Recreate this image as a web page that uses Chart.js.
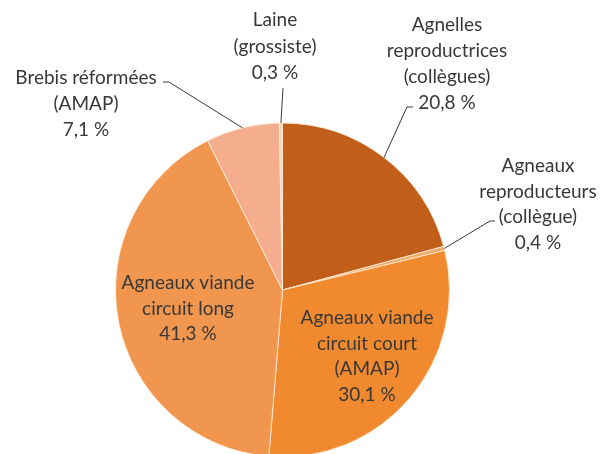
<!DOCTYPE html>
<html><head><meta charset="utf-8">
<script src="https://cdn.jsdelivr.net/npm/chart.js@4/dist/chart.umd.min.js"></script>
<style>html,body{margin:0;padding:0;background:#fff;overflow:hidden}#wrap{position:relative;width:600px;height:458px}</style>
</head><body><div id="wrap"><canvas id="c"></canvas></div>
<script>
// ---- data ----
const categories = ["Agnelles reproductrices (collègues)", "Agneaux reproducteurs (collègue)", "Agneaux viande circuit court (AMAP)", "Agneaux viande circuit long", "Brebis réformées (AMAP)", "Laine (grossiste)"];
const shares = [20.8, 0.4, 30.1, 41.3, 7.1, 0.3];
const labelLines = [["Agnelles", "reproductrices", "(collègues)"], ["Agneaux", "reproducteurs", "(collègue)"], ["Agneaux viande", "circuit court", "(AMAP)"], ["Agneaux viande", "circuit long"], ["Brebis réformées", "(AMAP)"], ["Laine", "(grossiste)"]];

// ---- style ----
const sliceColors = ["#C05E1A", "#F2A866", "#F18A2E", "#F1964E", "#F4AE8E", "#F8D3B6"];
const textColor = "#383838";
const font = "19px Lato";
// label placement (center x, first line y, line height, leader points after arc edge)
const labelLayout = [
  {x: 447, y: 25, lh: 26, leader: [[407, 107], [413, 107]]},
  {x: 538, y: 166, lh: 25.5, leader: [[490, 221], [495, 221]]},
  {x: 367, y: 318, lh: 25.5, leader: null},
  {x: 188, y: 283, lh: 25.5, leader: null},
  {x: 86, y: 78, lh: 26, leader: [[169, 82], [163, 82]]},
  {x: 275, y: 20, lh: 26.5, leader: [[283, 88]]}
];

const fmt = v => v.toFixed(1).replace('.', ',') + ' %';

const labelPlugin = {
  id: 'labels',
  afterDraw(chart) {
    const ctx = chart.ctx;
    const meta = chart.getDatasetMeta(0);
    ctx.save();
    ctx.strokeStyle = textColor;
    ctx.lineWidth = 1;
    meta.data.forEach((arc, i) => {
      const L = labelLayout[i];
      if (!L.leader) return;
      const p = arc.getProps(['x', 'y', 'startAngle', 'endAngle', 'outerRadius'], true);
      const mid = (p.startAngle + p.endAngle) / 2;
      const ex = p.x + Math.cos(mid) * p.outerRadius;
      const ey = p.y + Math.sin(mid) * p.outerRadius;
      ctx.beginPath();
      ctx.moveTo(ex, ey);
      L.leader.forEach(pt => ctx.lineTo(pt[0], pt[1]));
      ctx.stroke();
    });
    ctx.fillStyle = textColor;
    ctx.font = font;
    ctx.textAlign = 'center';
    ctx.textBaseline = 'middle';
    meta.data.forEach((arc, i) => {
      const L = labelLayout[i];
      const lines = labelLines[i].concat([fmt(shares[i])]);
      lines.forEach((t, k) => ctx.fillText(t, L.x, L.y + k * L.lh));
    });
    ctx.restore();
  }
};

new Chart(document.getElementById('c'), {
  type: 'pie',
  data: {
    labels: categories,
    datasets: [{
      data: shares,
      backgroundColor: sliceColors,
      borderColor: 'rgba(255,236,215,0.85)',
      borderWidth: 1
    }]
  },
  options: {
    responsive: true,
    maintainAspectRatio: false,
    animation: false,
    radius: 167,
    layout: {padding: {top: 123, bottom: 1, left: 115, right: 150}},
    plugins: {legend: {display: false}, tooltip: {enabled: false}}
  },
  plugins: [labelPlugin]
});
</script>
</body></html>
